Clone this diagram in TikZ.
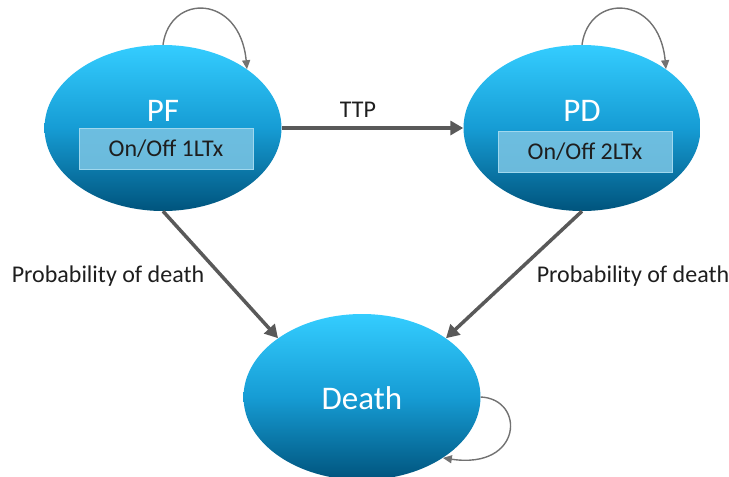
\documentclass[tikz,border=0pt]{standalone}
\usepackage{fontspec}
\setmainfont{Carlito}
\usetikzlibrary{shapes.geometric,arrows.meta}
\definecolor{stTop}{RGB}{52,205,255}
\definecolor{stMid}{RGB}{22,156,212}
\definecolor{stBot}{RGB}{0,84,125}
\definecolor{boxFill}{RGB}{118,194,226}
\definecolor{boxLine}{RGB}{160,216,238}
\definecolor{arrGray}{RGB}{89,89,89}
\definecolor{txtDark}{RGB}{30,30,30}
\tikzset{
  statenode/.style={ellipse, draw=none, inner sep=0pt, minimum width=237pt, minimum height=166pt,
    top color=stTop, bottom color=stBot, middle color=stMid},
  statelabel/.style={text=white, font=\fontsize{33}{38}\selectfont, inner sep=0pt},
  innerbox/.style={fill=boxFill, fill opacity=0.9, draw=boxLine, line width=1pt, text opacity=1,
    text=txtDark, minimum width=174pt, minimum height=41pt, inner sep=0pt,
    font=\fontsize{24}{28}\selectfont},
  bigarrow/.style={draw=arrGray, line width=3.5pt, -{Triangle[length=13pt,width=14pt]}},
  loop arrow/.style={draw=arrGray!85, line width=1.4pt, -{Triangle[length=9pt,width=8pt]}},
  edgelabel/.style={text=txtDark, font=\fontsize{24}{28}\selectfont, inner sep=0pt},
}
\begin{document}
\begin{tikzpicture}[x=1pt,y=-1pt]
\useasboundingbox (0,0) rectangle (729,477);
\node[statenode] (pf) at (163,128) {};
\node[statenode] (pd) at (582,128) {};
\node[statenode] (death) at (362,397) {};
\node[statelabel] (pflab) at (163,111) {PF};
\node[statelabel] (pdlab) at (582,111) {PD};
\node[statelabel] (deathlab) at (362,398) {Death};
\node[innerbox] (pfbox) at (166,149) {On/Off 1LTx};
\node[innerbox] (pdbox) at (585,152) {On/Off 2LTx};
\draw[bigarrow] (pf.east) -- (pd.west);
\node[edgelabel] (ttp) at (358,110) {TTP};
\draw[bigarrow] (pf.south) -- (death.145);
\draw[bigarrow] (pd.south) -- (death.35);
\node[edgelabel] (pleft) at (108,276) {Probability of death};
\node[edgelabel] (pright) at (633,276) {Probability of death};
\draw[loop arrow] (pf.north) .. controls +(7,-52) and +(-7,-75) .. (pf.35);
\draw[loop arrow] (pd.north) .. controls +(7,-52) and +(-7,-75) .. (pd.35);
\draw[loop arrow] (death.east) .. controls +(45,2) and +(80,12) .. (death.-37);
\end{tikzpicture}
\end{document}
